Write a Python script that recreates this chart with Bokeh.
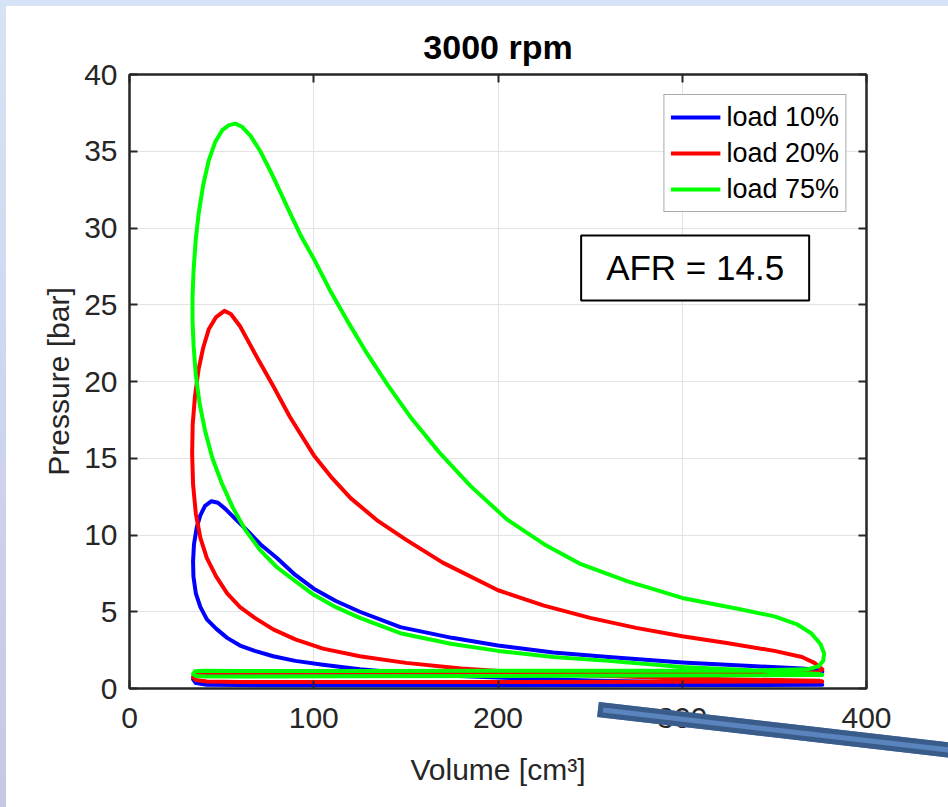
from bokeh.plotting import figure
from bokeh.layouts import column, row
from bokeh.models import (Range1d, FixedTicker, LinearAxis, Label, Div, CustomJSTickFormatter)
from bokeh.embed import file_html
from bokeh.resources import INLINE

# ---------------- data ----------------
title_text = "3000 rpm"
x_label = "Volume [cm³]"
y_label = "Pressure [bar]"
x_ticks = [0, 100, 200, 300, 400]
y_ticks = [0, 5, 10, 15, 20, 25, 30, 35, 40]
series_names = ["load 10%", "load 20%", "load 75%"]
series_colors = ["#0000FF", "#FF0000", "#00FF00"]
afr_value = 14.5

# load 10 %  (compression -> combustion -> expansion -> exhaust -> intake)
vol_10 = [375, 330, 290, 250, 210, 175, 150, 125, 105, 90, 78, 68, 60, 53, 47, 42, 38.5, 36,
          34.7, 34.5, 35, 36.5, 38.5, 41, 44.5, 48, 52, 57, 63, 71, 80, 90, 100, 112, 125, 147,
          175, 200, 230, 260, 300, 340, 365, 375,
          376, 373, 340, 280, 200, 120, 60, 40, 35, 34.5, 36, 42, 60, 120, 200, 280, 376, 375]
pres_10 = [0.30, 0.35, 0.42, 0.52, 0.66, 0.83, 1.0, 1.25, 1.55, 1.8, 2.1, 2.45, 2.8, 3.3, 3.9, 4.5, 5.3, 6.2,
           7.3, 8.3, 9.4, 10.5, 11.3, 11.9, 12.2, 12.1, 11.7, 11.1, 10.4, 9.4, 8.5, 7.4, 6.5, 5.7, 5.0, 4.0,
           3.3, 2.8, 2.35, 2.05, 1.7, 1.45, 1.3, 1.2,
           1.1, 1.05, 1.05, 1.04, 1.03, 1.02, 1.02, 1.0, 0.9, 0.6, 0.35, 0.25, 0.22, 0.21, 0.21, 0.22, 0.24, 0.30]

# load 20 %
vol_20 = [375, 330, 290, 250, 210, 180, 150, 125, 105, 90, 78, 68, 60, 53, 47, 42, 38.5, 36, 34.5, 34,
          34.3, 35.5, 37.5, 40, 43, 47, 51.5, 55, 60, 65, 70, 78, 87, 100, 110, 120, 135, 150, 170,
          200, 225, 250, 275, 300, 325, 350, 365, 372, 376,
          374, 340, 280, 200, 120, 60, 40, 35.5, 34.5, 36, 42, 60, 120, 200, 280, 376, 375]
pres_20 = [0.50, 0.59, 0.70, 0.85, 1.06, 1.3, 1.67, 2.1, 2.6, 3.2, 3.85, 4.6, 5.3, 6.2, 7.3, 8.5, 9.8, 11.4, 13.3, 15.3,
           17.2, 19.0, 20.8, 22.2, 23.4, 24.2, 24.6, 24.4, 23.6, 22.5, 21.4, 19.7, 17.7, 15.2, 13.7, 12.4, 10.9, 9.7, 8.2,
           6.4, 5.4, 4.6, 3.95, 3.4, 2.95, 2.45, 2.05, 1.65, 1.25,
           1.08, 1.06, 1.05, 1.05, 1.04, 1.03, 1.02, 0.95, 0.75, 0.55, 0.45, 0.42, 0.42, 0.43, 0.44, 0.46, 0.50]

# load 75 %
vol_75 = [375, 340, 300, 260, 230, 200, 175, 147, 125, 112, 100, 90, 80, 71, 63, 56, 50, 45, 41, 38, 36,
          34.8, 34.2, 34.2, 34.8, 36, 37.6, 40, 43, 46.5, 50.5, 54, 57.5, 61, 65.7, 71, 76.5, 82, 87.4, 93, 100,
          109, 118, 128, 140, 153, 168, 185, 205, 225, 245, 270, 300, 330, 350, 362, 370, 375, 377, 376.5,
          374, 368, 340, 280, 200, 120, 60, 40, 35.5, 34.5, 36, 42, 60, 120, 200, 280, 376, 375]
pres_75 = [0.95, 1.18, 1.4, 1.8, 2.05, 2.45, 2.9, 3.6, 4.6, 5.3, 6.1, 7.0, 7.9, 9.0, 10.3, 11.8, 13.4, 15.0, 16.8, 18.6, 20.4,
           22.3, 24.0, 25.5, 27.3, 29.3, 31.0, 32.8, 34.4, 35.6, 36.4, 36.7, 36.8, 36.6, 36.0, 35.0, 33.7, 32.3, 30.9, 29.5, 28.0,
           25.9, 24.0, 22.0, 19.8, 17.6, 15.4, 13.2, 11.0, 9.4, 8.1, 7.0, 5.9, 5.2, 4.7, 4.2, 3.6, 2.9, 2.3, 1.8,
           1.45, 1.25, 1.18, 1.16, 1.15, 1.14, 1.14, 1.15, 1.12, 0.95, 0.82, 0.78, 0.78, 0.80, 0.82, 0.85, 0.88, 0.95]

vols = [vol_10, vol_20, vol_75]
pressures = [pres_10, pres_20, pres_75]

# ---------------- figure ----------------
FONT = "Liberation Sans"
INK = "#262626"
PAGE_W, PAGE_H, EDGE = 948, 807, 6

p = figure(width=PAGE_W - EDGE, height=PAGE_H - EDGE, x_range=Range1d(0, 400), y_range=Range1d(0, 40),
           output_backend="svg", toolbar_location=None, title=title_text,
           min_border_left=123, min_border_right=82, min_border_top=68, min_border_bottom=119)
p.background_fill_color = "white"
p.border_fill_color = "white"
p.outline_line_color = INK
p.outline_line_width = 2

p.title.align = "center"
p.title.text_font = FONT
p.title.text_font_size = "34px"
p.title.text_font_style = "bold"
p.title.text_color = "black"
p.title.standoff = 17

for ax in (p.xaxis[0], p.yaxis[0]):
    ax.major_tick_in = 8
    ax.major_tick_out = 0
    ax.minor_tick_line_color = None
    ax.axis_line_color = INK
    ax.axis_line_width = 2
    ax.major_tick_line_color = INK
    ax.major_tick_line_width = 2
    ax.major_label_text_font = FONT
    ax.major_label_text_font_size = "30px"
    ax.major_label_text_color = INK
    ax.axis_label_text_font = FONT
    ax.axis_label_text_font_size = "30px"
    ax.axis_label_text_font_style = "normal"
    ax.axis_label_text_color = INK

p.xaxis.ticker = FixedTicker(ticks=x_ticks)
p.yaxis.ticker = FixedTicker(ticks=y_ticks)
p.xaxis.axis_label = x_label
p.yaxis.axis_label = y_label
p.xaxis.major_label_standoff = 19
p.xaxis.axis_label_standoff = 22
p.yaxis.major_label_standoff = 12
p.yaxis.axis_label_standoff = 6

# mirrored tick marks on top and right (no labels)
blank = CustomJSTickFormatter(code="return ''")
top_ax = LinearAxis(ticker=FixedTicker(ticks=x_ticks), formatter=blank)
right_ax = LinearAxis(ticker=FixedTicker(ticks=y_ticks), formatter=blank)
for ax in (top_ax, right_ax):
    ax.major_tick_in = 8
    ax.major_tick_out = 0
    ax.minor_tick_line_color = None
    ax.axis_line_color = INK
    ax.axis_line_width = 2
    ax.major_tick_line_color = INK
    ax.major_tick_line_width = 2
    ax.major_label_text_font_size = "1px"
    ax.major_label_standoff = 0
p.add_layout(top_ax, "above")
p.add_layout(right_ax, "right")

p.grid.grid_line_color = "#E3E3E3"
p.grid.grid_line_width = 1
p.xgrid.ticker = FixedTicker(ticks=x_ticks)
p.ygrid.ticker = FixedTicker(ticks=y_ticks)

for v, pr, name, col in zip(vols, pressures, series_names, series_colors):
    p.line(v, pr, line_color=col, line_width=4, legend_label=name, line_join="round")

lg = p.legend[0]
lg.location = "top_right"
lg.margin = 20
lg.padding = 6
lg.spacing = 4
lg.glyph_width = 50
lg.glyph_height = 32
lg.label_height = 32
lg.label_standoff = 6
lg.label_text_font = FONT
lg.label_text_font_size = "27px"
lg.label_text_color = "black"
lg.border_line_color = "#555555"
lg.border_line_width = 1.5
lg.background_fill_color = "white"
lg.background_fill_alpha = 1

afr = Label(x=307, y=27.4, text=f"AFR = {afr_value}", text_align="center", text_baseline="middle",
            text_font=FONT, text_font_size="35px", text_color="black",
            border_line_color="black", border_line_width=2,
            background_fill_color="white", background_fill_alpha=1,
            padding=dict(left=25, right=25, top=13, bottom=13))
p.add_layout(afr)

# ---------------- slide decoration ----------------
top_strip = Div(text="", width=PAGE_W, height=EDGE, margin=0,
                styles={"background-color": "#D6E3F7"})
left_strip = Div(text="", width=EDGE, height=PAGE_H - EDGE, margin=0,
                 styles={"background": "linear-gradient(to bottom, #D6E3F7, #C5C8E2)"})
# the drawn bar lying across the lower right of the slide
bar = Div(text="", width=400, height=15, margin=0,
          styles={"position": "absolute", "left": "598px", "top": "702px", "z-index": "10",
                  "width": "400px", "height": "15px", "min-height": "15px",
                  "box-sizing": "border-box", "background-color": "#5A84BD",
                  "border": "5px solid #3A5C8A", "transform-origin": "0 50%",
                  "transform": "rotate(6.58deg)"})
page = column(top_strip, row(left_strip, p, spacing=0), bar, spacing=0,
              styles={"position": "relative", "overflow": "hidden"})

open("out.html", "w").write(file_html(page, INLINE))
